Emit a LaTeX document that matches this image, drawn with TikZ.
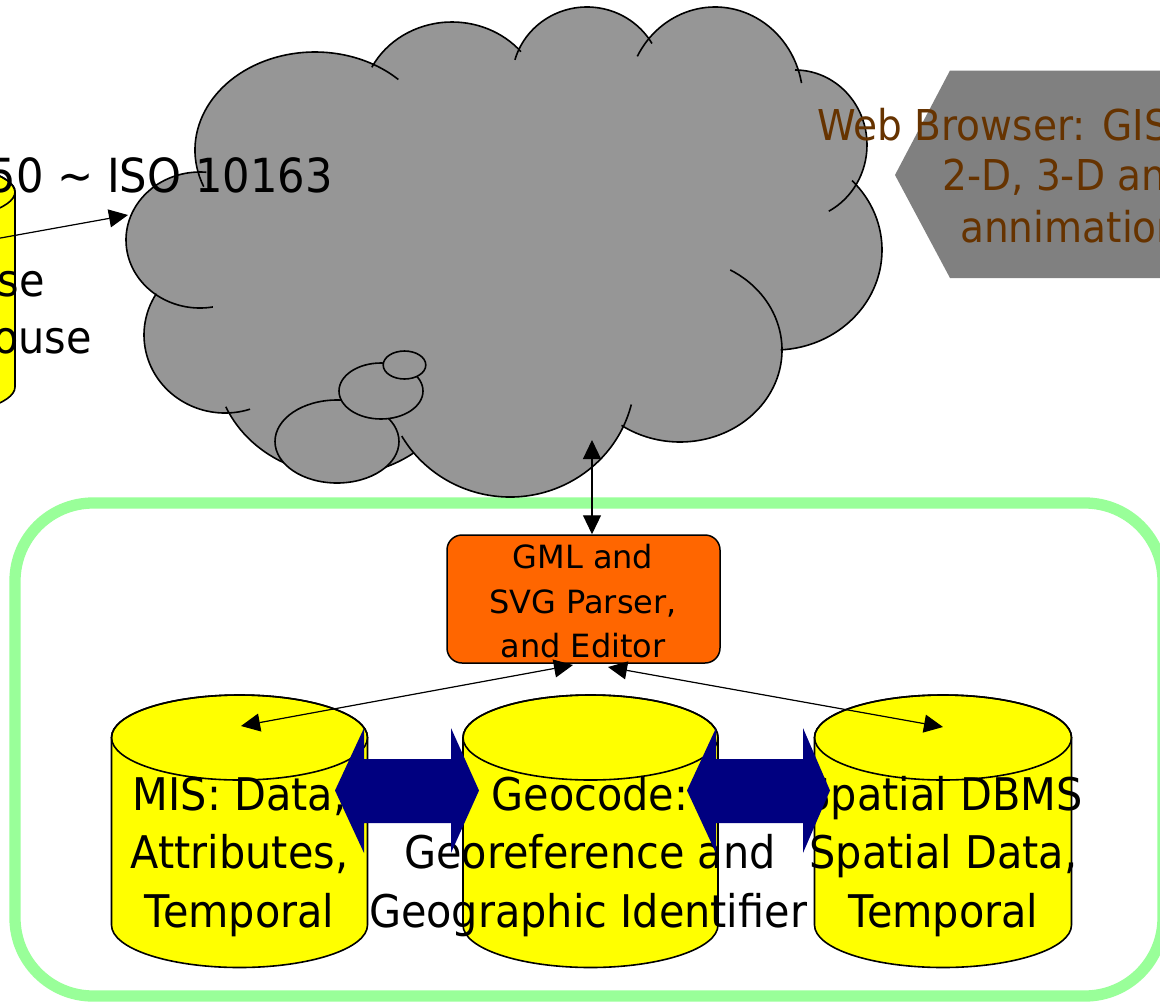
\documentclass[tikz,border=0pt]{standalone}
\usepackage{fontspec}
\setmainfont{DejaVu Sans}[FakeStretch=0.92]
\newfontfamily\verdanaish{DejaVu Sans}
\usetikzlibrary{arrows.meta}
\definecolor{cloudgray}{HTML}{969696}
\definecolor{webgray}{HTML}{808080}
\definecolor{webtext}{HTML}{663300}
\definecolor{cylyellow}{HTML}{FFFF00}
\definecolor{gmlorange}{HTML}{FF6600}
\definecolor{navyblue}{HTML}{000080}
\definecolor{framegreen}{HTML}{99FF99}
% cloud helpers: centre x, centre y, x radius, y radius (, start, end)
\newcommand\cloudblob[4]{\fill[cloudgray] (#1,#2) ellipse[x radius=#3,y radius=#4];}
\newcommand\cloudarc[6]{\draw[cloudline] (#1,#2) ++(#5:#3 and #4) arc[start angle=#5,end angle=#6,x radius=#3,y radius=#4];}
% cylinder: centre x, x radius, top y, bottom y, y radius
\newcommand\drawcyl[5]{%
  \path[cylbody] (#1-#2,#3) -- (#1-#2,#4) arc[start angle=180,end angle=0,x radius=#2,y radius=#5]
     -- (#1+#2,#3) arc[start angle=0,end angle=-180,x radius=#2,y radius=#5] -- cycle;
  \draw[cylline] (#1,#3) ellipse[x radius=#2,y radius=#5];}
\begin{document}
\begin{tikzpicture}[x=1pt,y=-1pt,
  cloudline/.style={line width=1.6pt,draw=black},
  cylbody/.style={fill=cylyellow,draw=black,line width=1.6pt},
  cylline/.style={draw=black,line width=1.6pt},
  ctext/.style={anchor=base,inner sep=0pt,font=\fontsize{45}{54}\selectfont},
  wtext/.style={anchor=base west,inner sep=0pt,text=webtext,font=\fontsize{42.5}{50}\selectfont},
  gtext/.style={anchor=base,inner sep=0pt,font=\verdanaish\fontsize{32}{40}\selectfont},
  thinarr/.style={line width=1.2pt,draw=black,fill=black},
  >={Triangle[length=19pt,width=18pt]},
  bluearr/.style={fill=navyblue},
  greenframe/.style={draw=framegreen,line width=11.3pt,rounded corners=78pt}]
\useasboundingbox (0,0) rectangle (1160,1002);
\clip (0,0) rectangle (1160,1002);
\fill[white] (0,0) rectangle (1160,1002);

% green frame
\draw[greenframe] (15,503) rectangle (1163,996);

% left (cut) cylinder
\drawcyl{-85}{100}{192}{387}{30}
\node[ctext,anchor=base east] (lsA) at (45,296) {se};
\node[ctext,anchor=base east] (lsB) at (92,353) {ouse};

% cloud fill (union of ellipses)
\cloudblob{500}{250}{280}{180}
\cloudblob{315}{150}{120}{98}
\cloudblob{452}{105}{90}{83}
\cloudblob{587}{80}{75}{73}
\cloudblob{715}{100}{88}{93}
\cloudblob{795}{145}{72}{75}
\cloudblob{775}{250}{107}{100}
\cloudblob{680}{350}{102}{92}
\cloudblob{510}{375}{125}{122}
\cloudblob{340}{360}{125}{115}
\cloudblob{225}{335}{81}{78}
\cloudblob{200}{240}{74}{68}
% cloud outline arcs
\cloudarc{315}{150}{120}{98}{158}{314}
\cloudarc{452}{105}{90}{83}{207}{320}
\cloudarc{587}{80}{75}{73}{196}{330}
\cloudarc{715}{100}{88}{93}{208}{349.5}
\cloudarc{795}{145}{72}{75}{270}{422}
\cloudarc{775}{250}{107}{100}{316}{447}
\cloudarc{680}{350}{102}{92}{299.5}{485}
\cloudarc{510}{375}{125}{122}{14}{150}
\cloudarc{340}{360}{125}{115}{54}{156}
\cloudarc{225}{335}{81}{78}{72}{212}
\cloudarc{200}{240}{74}{68}{80}{275}
% callout bubbles
\filldraw[cloudline,fill=cloudgray] (337,441.5) ellipse[x radius=62,y radius=41.5];
\filldraw[cloudline,fill=cloudgray] (381,391) ellipse[x radius=42,y radius=28];
\filldraw[cloudline,fill=cloudgray] (404.5,365) ellipse[x radius=21.3,y radius=14];

\node[ctext,anchor=base east,font=\fontsize{47}{56}\selectfont] (iso) at (333,192) {50 \textasciitilde\ ISO 10163};

% arrow from the left cylinder into the cloud
\coordinate (lsrc) at (-30,243.5);
\coordinate (cloudin) at (128,215);
\draw[thinarr,->] (lsrc) -- (cloudin);

% web browser display shape
\fill[webgray] (895,175) -- (950,70.5) -- (1175,70.5) -- (1175,278) -- (950,278) -- cycle;
\node[wtext] (web1) at (817,140) {Web Browser: GIS};
\node[wtext] (web2) at (942,190.5) {2-D, 3-D and};
\node[wtext] (web3) at (960,242) {annimation};

% GML box
\node[draw=black,fill=gmlorange,rounded corners=15pt,line width=1.5pt,
      minimum width=273pt,minimum height=128pt,inner sep=0pt] (gml) at (583.5,599) {};
\node[gtext] (gml1) at (583,568) {GML and};
\node[gtext] (gml2) at (583,613) {SVG Parser,};
\node[gtext] (gml3) at (583,657) {and Editor};

% database cylinders
\drawcyl{239.5}{128}{737.5}{925}{42.5}
\drawcyl{590.5}{127.5}{737.5}{925}{42.5}
\drawcyl{943}{128.5}{737.5}{925}{42.5}
\node[ctext] (mis1) at (239.5,810) {MIS: Data,};
\node[ctext] (mis2) at (239.5,868.5) {Attributes,};
\node[ctext] (mis3) at (239.5,927) {Temporal};
\node[ctext] (geo1) at (590,810) {Geocode:};
\node[ctext] (geo2) at (590,868.5) {Georeference and};
\node[ctext] (geo3) at (588,927) {Geographic Identifier};
\node[ctext] (sp1) at (943.5,810) {Spatial DBMS};
\node[ctext] (sp2) at (943.5,868.5) {Spatial Data,};
\node[ctext] (sp3) at (943.5,927) {Temporal};

% blue block double arrows
\fill[bluearr] (335,790.5) -- (364,728) -- (364,759) -- (451,759) -- (451,728) -- (479,790.5)
   -- (451,853) -- (451,823) -- (364,823) -- (364,853) -- cycle;
\fill[bluearr] (687,790.5) -- (716,728) -- (716,759) -- (803,759) -- (803,728) -- (830,790.5)
   -- (803,853) -- (803,823) -- (716,823) -- (716,853) -- cycle;

% thin connectors
\coordinate (cbot) at (592,440);
\coordinate (gmlL) at (573,665);
\coordinate (gmlR) at (608,667);
\coordinate (misT) at (241,726);
\coordinate (spT) at (943,727);
\draw[thinarr,<->] (cbot) -- (cbot |- gml.north);
\draw[thinarr,<->] (gmlL) -- (misT);
\draw[thinarr,<->] (gmlR) -- (spT);
\end{tikzpicture}
\end{document}
